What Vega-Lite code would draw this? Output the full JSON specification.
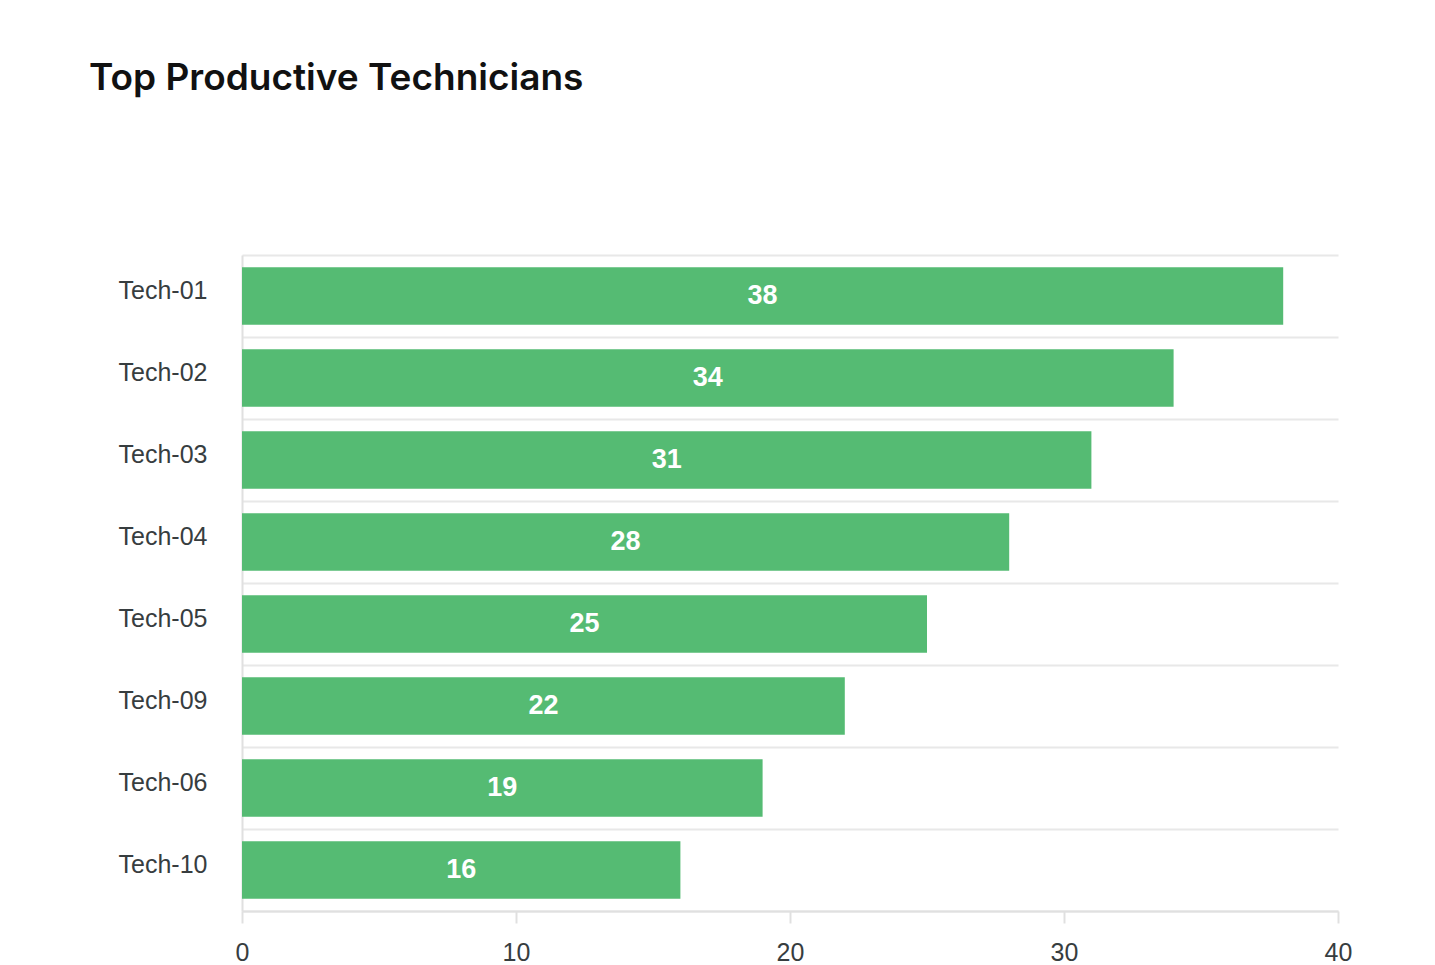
{
  "$schema": "https://vega.github.io/schema/vega-lite/v6.json",
  "width": 1096,
  "height": 656,
  "autosize": {"type": "none"},
  "padding": {"left": 242, "top": 255, "right": 97, "bottom": 54},
  "background": "#ffffff",
  "title": {
    "text": "Top Productive Technicians",
    "anchor": "start",
    "frame": "group",
    "orient": "top",
    "baseline": "alphabetic",
    "dx": -153,
    "offset": 116,
    "font": "Inter",
    "fontSize": 37,
    "fontWeight": 600,
    "color": "#111111"
  },
  "data": {
    "values": [
      {"technician": "Tech-01", "jobs": 38},
      {"technician": "Tech-02", "jobs": 34},
      {"technician": "Tech-03", "jobs": 31},
      {"technician": "Tech-04", "jobs": 28},
      {"technician": "Tech-05", "jobs": 25},
      {"technician": "Tech-09", "jobs": 22},
      {"technician": "Tech-06", "jobs": 19},
      {"technician": "Tech-10", "jobs": 16}
    ]
  },
  "encoding": {
    "y": {
      "field": "technician",
      "type": "nominal",
      "sort": null,
      "title": null,
      "scale": {"paddingInner": 0, "paddingOuter": 0},
      "axis": {
        "tickBand": "extent",
        "ticks": false,
        "grid": true,
        "gridColor": "#e8e8e8",
        "gridWidth": 2,
        "domainColor": "#e0e0e0",
        "domainWidth": 2,
        "labelFont": "Liberation Sans",
        "labelFontSize": 25,
        "labelColor": "#373d3f",
        "labelPadding": 35,
        "labelOffset": -6
      }
    }
  },
  "layer": [
    {
      "mark": {"type": "bar", "color": "#55bb73", "height": {"band": 0.7}},
      "encoding": {
        "x": {
          "field": "jobs",
          "type": "quantitative",
          "title": null,
          "scale": {"domain": [0, 40], "nice": false},
          "axis": {
            "values": [0, 10, 20, 30, 40],
            "grid": false,
            "labelFlush": false,
            "labelBound": false,
            "domainColor": "#e0e0e0",
            "domainWidth": 2,
            "tickColor": "#e0e0e0",
            "tickWidth": 2,
            "tickSize": 12,
            "labelFont": "Liberation Sans",
            "labelFontSize": 25,
            "labelColor": "#373d3f",
            "labelPadding": 17
          }
        }
      }
    },
    {
      "mark": {
        "type": "text",
        "color": "#ffffff",
        "font": "Liberation Sans",
        "fontSize": 27,
        "fontWeight": "bold",
        "align": "center",
        "baseline": "middle"
      },
      "encoding": {
        "x": {
          "field": "jobs",
          "type": "quantitative",
          "scale": {"domain": [0, 80], "nice": false},
          "axis": null
        },
        "text": {"field": "jobs", "type": "quantitative"}
      }
    }
  ],
  "resolve": {"scale": {"x": "independent"}},
  "config": {"view": {"stroke": null}}
}
